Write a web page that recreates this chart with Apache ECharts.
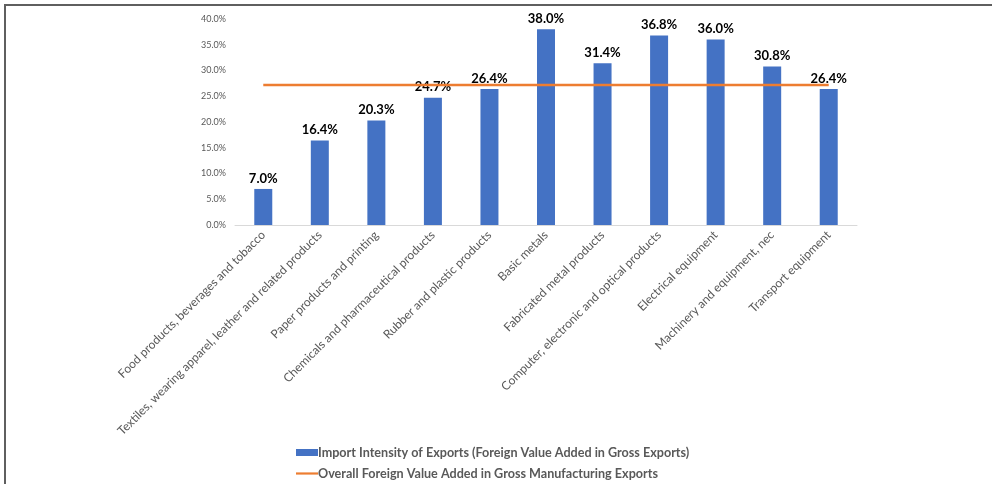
<!DOCTYPE html>
<html>
<head>
<meta charset="utf-8">
<script src="https://cdn.jsdelivr.net/npm/echarts@6/dist/echarts.min.js"></script>
<style>
html,body{margin:0;padding:0;background:#fff;}
#frame{position:absolute;left:4px;top:4px;width:988px;height:480px;border-top:2px solid #5f5f5f;border-left:2px solid #5f5f5f;box-sizing:border-box;}
#chart{position:absolute;left:0;top:0;width:992px;height:484px;}
</style>
</head>
<body>
<div id="frame"></div>
<div id="chart"></div>
<script>
const categories = [
  "Food products, beverages and tobacco",
  "Textiles, wearing apparel, leather and related products",
  "Paper products and printing",
  "Chemicals and pharmaceutical products",
  "Rubber and plastic products",
  "Basic metals",
  "Fabricated metal products",
  "Computer, electronic and optical products",
  "Electrical equipment",
  "Machinery and equipment, nec",
  "Transport equipment"
];
const importIntensity = [7.0, 16.4, 20.3, 24.7, 26.4, 38.0, 31.4, 36.8, 36.0, 30.8, 26.4];
const overallValue = [27.2, 27.2, 27.2, 27.2, 27.2, 27.2, 27.2, 27.2, 27.2, 27.2, 27.2];
const seriesNames = [
  "Import Intensity of Exports (Foreign Value Added in Gross Exports)",
  "Overall Foreign Value Added in Gross Manufacturing Exports"
];

const font = "Lato, 'Open Sans', sans-serif";
const legendText = { color: '#595959', fontSize: 12.6, fontWeight: 'bold', fontFamily: font, padding: [0,0,0,-5] };
const chart = echarts.init(document.getElementById('chart'));
chart.setOption({
  animation: false,
  textStyle: { fontFamily: font },
  grid: { left: 235, right: 135, top: 19, bottom: 259, containLabel: false },
  xAxis: {
    type: 'category',
    data: categories,
    boundaryGap: true,
    axisLine: { lineStyle: { color: '#d9d9d9', width: 1 } },
    axisTick: { show: false },
    axisLabel: { rotate: 45, interval: 0, color: '#595959', fontSize: 12, fontFamily: font, margin: 8 }
  },
  yAxis: {
    type: 'value',
    min: 0, max: 40, interval: 5,
    axisLine: { show: false },
    axisTick: { show: false },
    splitLine: { show: false },
    axisLabel: { color: '#595959', fontSize: 9, fontFamily: font, margin: 9,
      formatter: v => v.toFixed(1) + '%' }
  },
  legend: [
    {
      left: 296, top: 446, padding: 0,
      itemWidth: 22, itemHeight: 7,
      textStyle: legendText,
      data: [{ name: seriesNames[0], icon: 'rect' }]
    },
    {
      left: 296, top: 467, padding: 0,
      itemWidth: 22, itemHeight: 7,
      textStyle: legendText,
      data: [{ name: seriesNames[1], icon: 'path://M0,0H22V2.2H0Z' }]
    }
  ],
  series: [
    {
      name: seriesNames[0],
      type: 'bar',
      data: importIntensity,
      barWidth: 18,
      itemStyle: { color: '#4472C4' },
      label: { show: true, position: 'top', distance: 4, color: '#000', fontWeight: 'bold', fontSize: 13,
        fontFamily: font, formatter: p => p.value.toFixed(1) + '%' }
    },
    {
      name: seriesNames[1],
      type: 'line',
      data: overallValue,
      symbol: 'none',
      lineStyle: { color: '#ED7D31', width: 2.5 },
      itemStyle: { color: '#ED7D31' },
      z: 3
    }
  ]
});
</script>
</body>
</html>
